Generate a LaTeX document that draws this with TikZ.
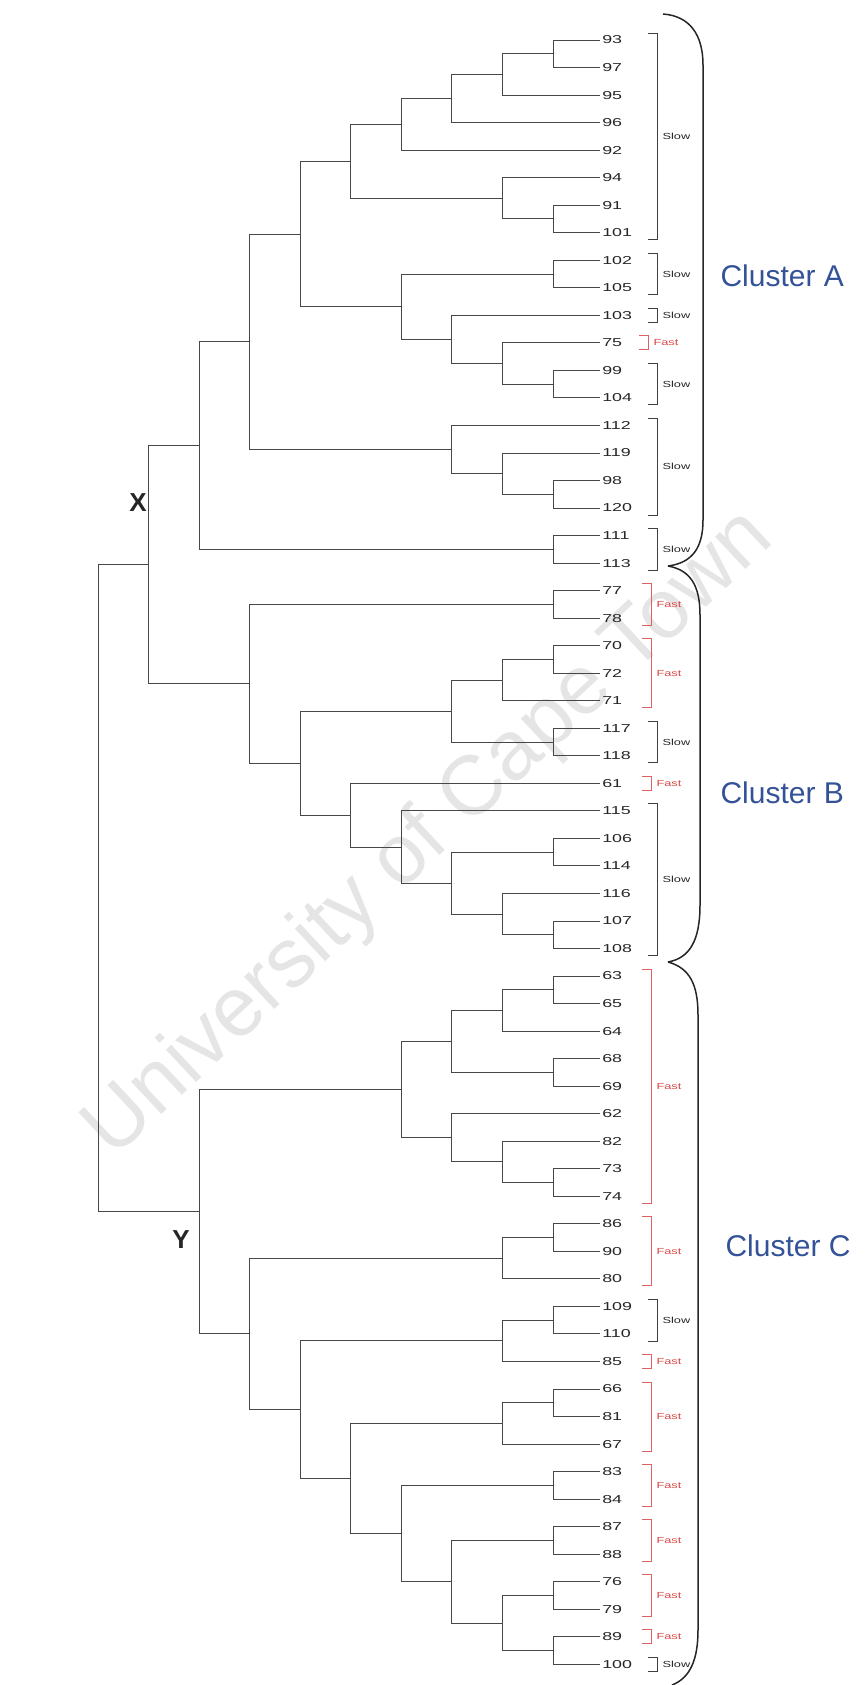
\documentclass[tikz,border=0pt]{standalone}
\usepackage{fontspec}
\setmainfont{Liberation Sans}
\usetikzlibrary{calc}

\definecolor{clusterblue}{RGB}{52,82,152}
\definecolor{fastred}{RGB}{214,72,72}

% join two subtrees at depth #2 (0 = root, 9 = pairs of leaves)
\newcommand\dmerge[4]{%
  \path let \p1 = ($(#3)!0.5!(#4)$) in ({98+50.56*#2}, \y1) coordinate (#1);
  \draw[branch] (#1) |- (#3);
  \draw[branch] (#1) |- (#4);
}
% bracket beside a run of leaves, with its speed label
\newcommand\speedtag[6]{%
  \draw[#1] let \p1 = (l#4.west), \p2 = (l#5.west) in
    ({#3-9}, {\y1+7pt}) -- (#3, {\y1+7pt}) -- (#3, {\y2-7pt}) -- ({#3-9}, {\y2-7pt})
    ({#3+5}, {0.5*\y1+0.5*\y2}) node[#2] (s#4) {#6};
}

\begin{document}
\begin{tikzpicture}[x=1pt, y=-1pt,
    branch/.style={draw=black!72, line width=0.9pt},
    leaf/.style={anchor=west, inner sep=1.3pt, text=black!85,
                 font=\fontsize{11.5}{12}\selectfont, xscale=1.55},
    slowbr/.style={draw=black!75, line width=0.8pt},
    fastbr/.style={draw=fastred!85, line width=0.8pt},
    slowtag/.style={anchor=west, inner sep=0pt, text=black!85,
                    font=\fontsize{8.8}{9}\selectfont, xscale=1.45},
    fasttag/.style={slowtag, text=fastred},
    brace/.style={draw=black!85, line width=1.5pt},
    cluster/.style={anchor=west, text=clusterblue, font=\fontsize{30}{30}\selectfont},
    side/.style={text=black!85, font=\bfseries\fontsize{26}{26}\selectfont},
    wmark/.style={text=black!10, font=\fontsize{84}{84}\selectfont, rotate=43}
]
\useasboundingbox (0,0) rectangle (865,1685);
\node[wmark] (uct) at (430,835) {University of Cape Town};

\foreach \name [count=\i from 0] in {93,97,95,96,92,94,91,101,102,105,103,75,99,104,
    112,119,98,120,111,113,77,78,70,72,71,117,118,61,115,106,114,116,107,108,
    63,65,64,68,69,62,82,73,74,86,90,80,109,110,85,66,81,67,83,84,87,88,76,79,89,100}
  \node[leaf] (l\name) at (600, {40+27.53*\i}) {\name};

% cluster A
\dmerge{a1}{9}{l93.west}{l97.west}
\dmerge{a2}{8}{a1}{l95.west}
\dmerge{a3}{7}{a2}{l96.west}
\dmerge{a4}{6}{a3}{l92.west}
\dmerge{a5}{9}{l91.west}{l101.west}
\dmerge{a6}{8}{l94.west}{a5}
\dmerge{a7}{5}{a4}{a6}
\dmerge{a9}{9}{l102.west}{l105.west}
\dmerge{a10}{9}{l99.west}{l104.west}
\dmerge{a11}{8}{l75.west}{a10}
\dmerge{a12}{7}{l103.west}{a11}
\dmerge{a13}{6}{a9}{a12}
\dmerge{a8}{4}{a7}{a13}
\dmerge{a16}{9}{l98.west}{l120.west}
\dmerge{a17}{8}{l119.west}{a16}
\dmerge{a18}{7}{l112.west}{a17}
\dmerge{a15}{3}{a8}{a18}
\dmerge{a20}{9}{l111.west}{l113.west}
\dmerge{a19}{2}{a15}{a20}

% cluster B
\dmerge{b1}{9}{l77.west}{l78.west}
\dmerge{b2}{9}{l70.west}{l72.west}
\dmerge{b3}{8}{b2}{l71.west}
\dmerge{b4}{9}{l117.west}{l118.west}
\dmerge{b5}{7}{b3}{b4}
\dmerge{b13}{9}{l106.west}{l114.west}
\dmerge{b11}{9}{l107.west}{l108.west}
\dmerge{b12}{8}{l116.west}{b11}
\dmerge{b10}{7}{b13}{b12}
\dmerge{b9}{6}{l115.west}{b10}
\dmerge{b8}{5}{l61.west}{b9}
\dmerge{b7}{4}{b5}{b8}
\dmerge{b14}{3}{b1}{b7}
\dmerge{cx}{1}{a19}{b14}

% cluster C
\dmerge{c1}{9}{l63.west}{l65.west}
\dmerge{c2}{8}{c1}{l64.west}
\dmerge{c3}{9}{l68.west}{l69.west}
\dmerge{c4}{7}{c2}{c3}
\dmerge{c8}{9}{l73.west}{l74.west}
\dmerge{c7}{8}{l82.west}{c8}
\dmerge{c6}{7}{l62.west}{c7}
\dmerge{c5}{6}{c4}{c6}
\dmerge{c9}{9}{l86.west}{l90.west}
\dmerge{c10}{8}{c9}{l80.west}
\dmerge{c12}{9}{l109.west}{l110.west}
\dmerge{c13}{8}{c12}{l85.west}
\dmerge{c14}{9}{l66.west}{l81.west}
\dmerge{c15}{8}{c14}{l67.west}
\dmerge{c16}{9}{l83.west}{l84.west}
\dmerge{c18}{9}{l87.west}{l88.west}
\dmerge{c19}{9}{l76.west}{l79.west}
\dmerge{c20}{9}{l89.west}{l100.west}
\dmerge{c21}{8}{c19}{c20}
\dmerge{c22}{7}{c18}{c21}
\dmerge{c17}{6}{c16}{c22}
\dmerge{c26}{5}{c15}{c17}
\dmerge{c27}{4}{c13}{c26}
\dmerge{c23}{3}{c10}{c27}
\dmerge{cy}{2}{c5}{c23}
\dmerge{root}{0}{cx}{cy}

\node[side] (xlab) at (138,503) {X};
\node[side] (ylab) at (181,1240) {Y};

\speedtag{slowbr}{slowtag}{657}{93}{101}{Slow}
\speedtag{slowbr}{slowtag}{657}{102}{105}{Slow}
\speedtag{slowbr}{slowtag}{657}{103}{103}{Slow}
\speedtag{fastbr}{fasttag}{648}{75}{75}{Fast}
\speedtag{slowbr}{slowtag}{657}{99}{104}{Slow}
\speedtag{slowbr}{slowtag}{657}{112}{120}{Slow}
\speedtag{slowbr}{slowtag}{657}{111}{113}{Slow}
\speedtag{fastbr}{fasttag}{651}{77}{78}{Fast}
\speedtag{fastbr}{fasttag}{651}{70}{71}{Fast}
\speedtag{slowbr}{slowtag}{657}{117}{118}{Slow}
\speedtag{fastbr}{fasttag}{651}{61}{61}{Fast}
\speedtag{slowbr}{slowtag}{657}{115}{108}{Slow}
\speedtag{fastbr}{fasttag}{651}{63}{74}{Fast}
\speedtag{fastbr}{fasttag}{651}{86}{80}{Fast}
\speedtag{slowbr}{slowtag}{657}{109}{110}{Slow}
\speedtag{fastbr}{fasttag}{651}{85}{85}{Fast}
\speedtag{fastbr}{fasttag}{651}{66}{67}{Fast}
\speedtag{fastbr}{fasttag}{651}{83}{84}{Fast}
\speedtag{fastbr}{fasttag}{651}{87}{88}{Fast}
\speedtag{fastbr}{fasttag}{651}{76}{79}{Fast}
\speedtag{fastbr}{fasttag}{651}{89}{89}{Fast}
\speedtag{slowbr}{slowtag}{657}{100}{100}{Slow}

\draw[brace] (663,14) .. controls (690,16) and (703,35) .. (703,65) -- (703,520)
  .. controls (703,548) and (692,563) .. (668,566);
\draw[brace] (668,566) .. controls (690,570) and (700,585) .. (700,615) -- (700,905)
  .. controls (700,940) and (690,958) .. (668,962);
\draw[brace] (668,962) .. controls (690,968) and (698,985) .. (698,1015) -- (698,1630)
  .. controls (698,1660) and (690,1678) .. (672,1685);

\node[cluster] (ca) at (717,276) {Cluster A};
\node[cluster] (cb) at (717,793) {Cluster B};
\node[cluster] (cc) at (722,1246) {Cluster C};
\end{tikzpicture}
\end{document}
